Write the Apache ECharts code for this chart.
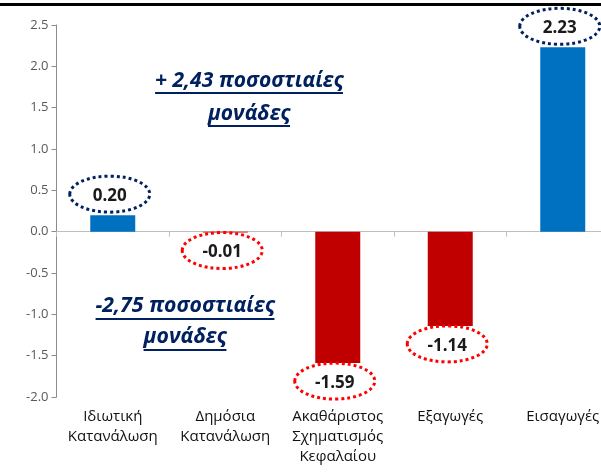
<!DOCTYPE html>
<html>
<head>
<meta charset="utf-8">
<script src="https://cdn.jsdelivr.net/npm/echarts@6/dist/echarts.min.js"></script>
<style>
html, body { margin: 0; padding: 0; background: #fff; }
#chart { width: 601px; height: 474px; }
</style>
</head>
<body>
<div id="chart"></div>
<script>
// data
const categories = ['Ιδιωτική\nΚατανάλωση', 'Δημόσια\nΚατανάλωση', 'Ακαθάριστος\nΣχηματισμός\nΚεφαλαίου', 'Εξαγωγές', 'Εισαγωγές'];
const values = [0.20, -0.01, -1.59, -1.14, 2.23];
const yMin = -2.0;
const yMax = 2.5;
const yStep = 0.5;
const noteTop = ['+ 2,43 ποσοστιαίες', 'μονάδες'];
const noteBottom = ['-2,75 ποσοστιαίες', 'μονάδες'];

const navy = '#002060';
const noteFont = '"Open Sans", "DejaVu Sans", sans-serif';

// size the note text so the first line spans the wanted width
const ctx = document.createElement('canvas').getContext('2d');
function measure(text, size) {
    ctx.font = 'italic bold ' + size + 'px ' + noteFont;
    return ctx.measureText(text).width;
}
function noteGraphics(lines, cx, baselines, width) {
    const size = 20 * width / measure(lines[0], 20);
    const out = [];
    lines.forEach((t, i) => {
        const w = measure(t, size);
        out.push({
            type: 'text', left: cx - w / 2, top: baselines[i] - size * 0.95,
            style: {text: t, font: 'italic bold ' + size.toFixed(1) + 'px ' + noteFont, fill: navy}
        });
        out.push({
            type: 'line',
            shape: {x1: cx - w / 2, y1: baselines[i] + 3, x2: cx + w / 2, y2: baselines[i] + 3},
            style: {stroke: navy, lineWidth: 2}
        });
    });
    return out;
}

const chart = echarts.init(document.getElementById('chart'));

const option = {
    animation: false,
    backgroundColor: '#fff',
    // the plot runs past the right edge of the picture, as in the original crop
    grid: {left: 56.5, top: 25, width: 562.5, height: 372, containLabel: false, outerBoundsMode: 'none'},
    xAxis: [
        {
            type: 'category',
            data: categories,
            axisLine: {onZero: true, lineStyle: {color: '#bfbfbf', width: 1}},
            axisTick: {show: true, length: 5, lineStyle: {color: '#bfbfbf'}},
            axisLabel: {show: false}
        },
        {
            type: 'category',
            data: categories,
            position: 'bottom',
            axisLine: {show: false, onZero: false},
            axisTick: {show: false},
            axisLabel: {
                interval: 0,
                hideOverlap: false,
                margin: 10,
                fontSize: 15,
                lineHeight: 20,
                color: '#111',
                fontFamily: '"Open Sans", sans-serif'
            }
        }
    ],
    yAxis: {
        type: 'value',
        min: yMin,
        max: yMax,
        interval: yStep,
        splitLine: {show: false},
        axisLine: {show: true, lineStyle: {color: '#8c8c8c'}},
        axisTick: {show: true, length: 5, lineStyle: {color: '#8c8c8c'}},
        axisLabel: {
            margin: 8,
            fontSize: 13,
            color: '#595959',
            fontFamily: '"Open Sans", sans-serif',
            formatter: v => v.toFixed(1)
        }
    },
    series: [
        {
            type: 'bar',
            data: values,
            barWidth: 45,
            itemStyle: {
                color: p => p.value >= 0 ? '#0070C0' : '#C00000'
            }
        },
        {
            type: 'custom',
            data: values.map((v, i) => [i, v]),
            encode: {x: 0, y: 1},
            clip: false,
            z: 5,
            renderItem: (params, api) => {
                const v = api.value(1);
                const p = api.coord([api.value(0), v]);
                const up = v >= 0;
                const cx = p[0] - 3;
                const cy = p[1] + (up ? -21 : 18);
                return {
                    type: 'group',
                    children: [
                        {
                            type: 'ellipse',
                            shape: {cx: cx, cy: cy, rx: 40, ry: 18},
                            style: {fill: null, stroke: up ? navy : '#ff0000', lineWidth: 3, lineDash: [3, 3]}
                        },
                        {
                            type: 'text',
                            x: cx,
                            y: cy + 2,
                            style: {
                                text: v.toFixed(2),
                                align: 'center',
                                verticalAlign: 'middle',
                                fontSize: 17,
                                fontWeight: 'bold',
                                fontFamily: '"Open Sans", sans-serif',
                                fill: '#1a1a1a'
                            }
                        }
                    ]
                };
            }
        }
    ],
    graphic: [
        {type: 'rect', shape: {x: 0, y: 3, width: 601, height: 3}, style: {fill: '#000'}}
    ].concat(
        noteGraphics(noteTop, 249, [90, 123], 188),
        noteGraphics(noteBottom, 185, [316, 347], 179)
    )
};

chart.setOption(option);
</script>
</body>
</html>
